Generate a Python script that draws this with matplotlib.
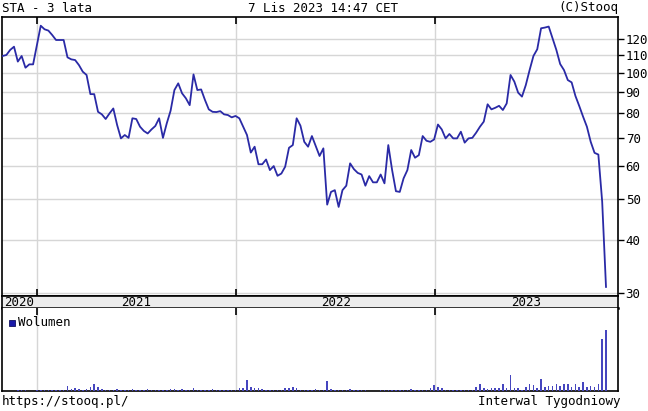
import matplotlib
matplotlib.use("Agg")
import matplotlib.pyplot as plt
import matplotlib.ticker as mticker
import numpy as np
import pandas as pd

# ---------------- data ----------------
last_week = "2023-11-10"
n_weeks = 159

price = [
    109.5, 110.1, 113.2, 115.2, 106.2, 109.5, 102.7, 104.6, 104.6, 116.3,
    129.2, 126.7, 125.8, 122.8, 119.5, 119.5, 119.5, 108.7, 107.5, 107.1,
    104.2, 100.5, 98.7, 88.9, 88.9, 80.7, 79.6, 77.6, 80.0, 82.2,
    75.1, 69.8, 71.1, 70.0, 77.9, 77.6, 74.4, 72.7, 71.7, 73.3,
    74.7, 77.9, 70.0, 75.8, 81.2, 90.9, 94.3, 89.3, 86.9, 83.7,
    99.0, 90.9, 91.2, 86.1, 81.8, 80.7, 80.6, 81.0, 79.6, 79.3,
    78.3, 78.9, 77.9, 74.4, 71.1, 64.6, 66.7, 60.6, 60.6, 62.2,
    58.7, 60.0, 56.9, 57.6, 59.8, 66.3, 67.3, 77.9, 74.8, 68.5,
    66.7, 70.7, 66.9, 63.4, 66.1, 48.6, 52.1, 52.6, 48.0, 52.6,
    53.9, 60.9, 59.0, 57.8, 57.3, 53.9, 56.8, 54.9, 54.9, 57.3,
    54.6, 67.3, 58.7, 52.3, 52.1, 56.1, 58.7, 65.5, 62.8, 63.7,
    70.7, 68.9, 68.5, 69.4, 75.3, 73.3, 69.8, 71.5, 69.8, 69.8,
    72.4, 68.2, 69.8, 70.0, 72.0, 74.4, 76.5, 84.1, 81.8, 82.5,
    83.4, 81.5, 84.5, 98.7, 95.2, 89.6, 87.7, 93.4, 101.4, 109.5,
    113.6, 127.4, 127.9, 128.6, 120.6, 113.2, 104.8, 101.4, 96.0, 94.8,
    88.0, 83.3, 78.6, 74.4, 68.5, 64.5, 63.9, 49.4, 31.0,
]

volume = [
    0, 0, 0, 0,
    1, 1, 1, 0,
    0,
    1, 1, 1, 1, 1, 1, 1,
    1, 5, 2, 3, 2, 1, 2, 4, 7, 4, 2,
    1, 1, 1, 2, 1, 1, 1, 2, 1, 1, 1, 2, 1, 1, 1, 1, 1,
    2, 2, 1, 2, 1, 1, 3, 1, 1, 1, 1, 2, 1, 1, 1, 1, 1,
    1, 3, 3, 10, 4, 3, 3, 2, 1, 1, 1, 1, 1,
    3, 3, 4, 3, 1, 1, 1, 1, 2, 1, 1,
    9, 2, 1, 1, 1, 1, 2, 1, 1, 1, 1,
    0, 0, 0,
    1, 1, 1, 1, 1, 1, 1, 1, 2, 1, 1, 1, 1, 3,
    6, 4, 3, 1, 1, 1, 1, 1, 1, 1, 1,
    4, 7, 3, 2, 3, 3, 3, 7, 3, 15, 3, 3, 1, 4, 7, 6, 3, 11, 4, 5,
    5, 7, 5, 7, 7, 4, 7, 4, 8, 4, 5, 4, 7, 49, 57,
]

price_ticks = [30, 40, 50, 60, 70, 80, 90, 100, 110, 120]
years = [2020, 2021, 2022, 2023]
title_left = "STA - 3 lata"
title_mid = "7 Lis 2023 14:47 CET"
title_right = "(C)Stooq"
footer_left = "https://stooq.pl/"
footer_right = "Interwal Tygodniowy"
legend_label = "Wolumen"

dates = pd.date_range(end=last_week, periods=n_weeks, freq="7D")

# ---------------- layout ----------------
W, H = 648, 411
DPI = 100
FONT = "DejaVu Sans Mono"
FS = 9.0
LINE_C = "#2a2aa6"
BAR_C = "#4646bf"
GRID_C = "#d6d6d6"

fig = plt.figure(figsize=(W / DPI, H / DPI), dpi=DPI)
fig.patch.set_facecolor("white")


def box(l, t, r, b):
    return [l / W, 1 - b / H, (r - l) / W, (b - t) / H]


def fx(x):
    return x / W


def fy(y):
    return 1 - y / H


x0 = pd.Timestamp("2020-10-29")
x1 = pd.Timestamp("2023-12-02")
year_starts = [pd.Timestamp(f"{y}-01-01") for y in years[1:]]

# price axes
ax = fig.add_axes(box(2, 17, 618, 296))
ax.plot(dates, price, color=LINE_C, lw=1.3, zorder=3)
ax.set_yscale("log")
ax.set_ylim(29.5, 135.5)
ax.set_xlim(x0, x1)
ax.yaxis.set_major_locator(mticker.FixedLocator(price_ticks))
ax.yaxis.set_major_formatter(mticker.FixedFormatter([str(v) for v in price_ticks]))
ax.yaxis.set_minor_locator(mticker.NullLocator())
ax.yaxis.tick_right()
ax.tick_params(axis="y", direction="out", length=4, width=1, pad=1.5,
               labelsize=FS, colors="black")
for lbl in ax.get_yticklabels():
    lbl.set_fontfamily(FONT)
ax.set_xticks(year_starts)
ax.set_xticklabels([])
ax.tick_params(axis="x", direction="in", length=5, width=1.2, bottom=True, top=True)
for y in price_ticks:
    ax.axhline(y, color=GRID_C, lw=1.0, zorder=1)
for d in year_starts:
    ax.axvline(d, color=GRID_C, lw=1.0, zorder=1)
for s in ax.spines.values():
    s.set_linewidth(1.2)
    s.set_color("black")

# year strip
axs = fig.add_axes(box(2, 296, 618, 308))
axs.set_facecolor("#ececec")
axs.set_xlim(x0, x1)
axs.set_ylim(0, 1)
axs.set_xticks([])
axs.set_yticks([])
for s in axs.spines.values():
    s.set_linewidth(1.2)
axs.spines["bottom"].set_linewidth(1.8)
bounds = [x0] + year_starts + [x1]
for i, yr in enumerate(years):
    mid = bounds[i] + (bounds[i + 1] - bounds[i]) / 2
    axs.text(mid, 0.45, str(yr), ha="center", va="center",
             fontsize=FS, family=FONT)

# volume axes
axv = fig.add_axes(box(2, 308, 618, 391))
axv.bar(dates, volume, width=2.8, color=BAR_C, zorder=3)
axv.set_xlim(x0, x1)
axv.set_ylim(0, 78)
axv.set_yticks([])
axv.set_xticks(year_starts)
axv.set_xticklabels([])
axv.tick_params(axis="x", direction="in", length=5, width=1.2, bottom=False, top=True)
for d in year_starts:
    axv.axvline(d, color=GRID_C, lw=1.0, zorder=1)
for s in axv.spines.values():
    s.set_linewidth(1.2)
    s.set_color("black")
axv.spines["top"].set_visible(False)

# legend
fig.patches.append(plt.Rectangle((fx(9), fy(326)), 6 / W, 6 / H,
                                 transform=fig.transFigure, facecolor="#1a1aa8",
                                 edgecolor="#101060", lw=0.6))
fig.text(fx(18), fy(322.5), legend_label, ha="left", va="center",
         fontsize=FS, family=FONT)

# header / footer
fig.text(fx(2), fy(8), title_left, ha="left", va="center", fontsize=FS, family=FONT)
fig.text(fx(323), fy(8), title_mid, ha="center", va="center", fontsize=FS, family=FONT)
fig.text(fx(618), fy(8), title_right, ha="right", va="center", fontsize=FS, family=FONT)
fig.text(fx(2), fy(401), footer_left, ha="left", va="center", fontsize=FS, family=FONT)
fig.text(fx(620), fy(401), footer_right, ha="right", va="center", fontsize=FS, family=FONT)

fig.savefig("out.png", dpi=DPI)
